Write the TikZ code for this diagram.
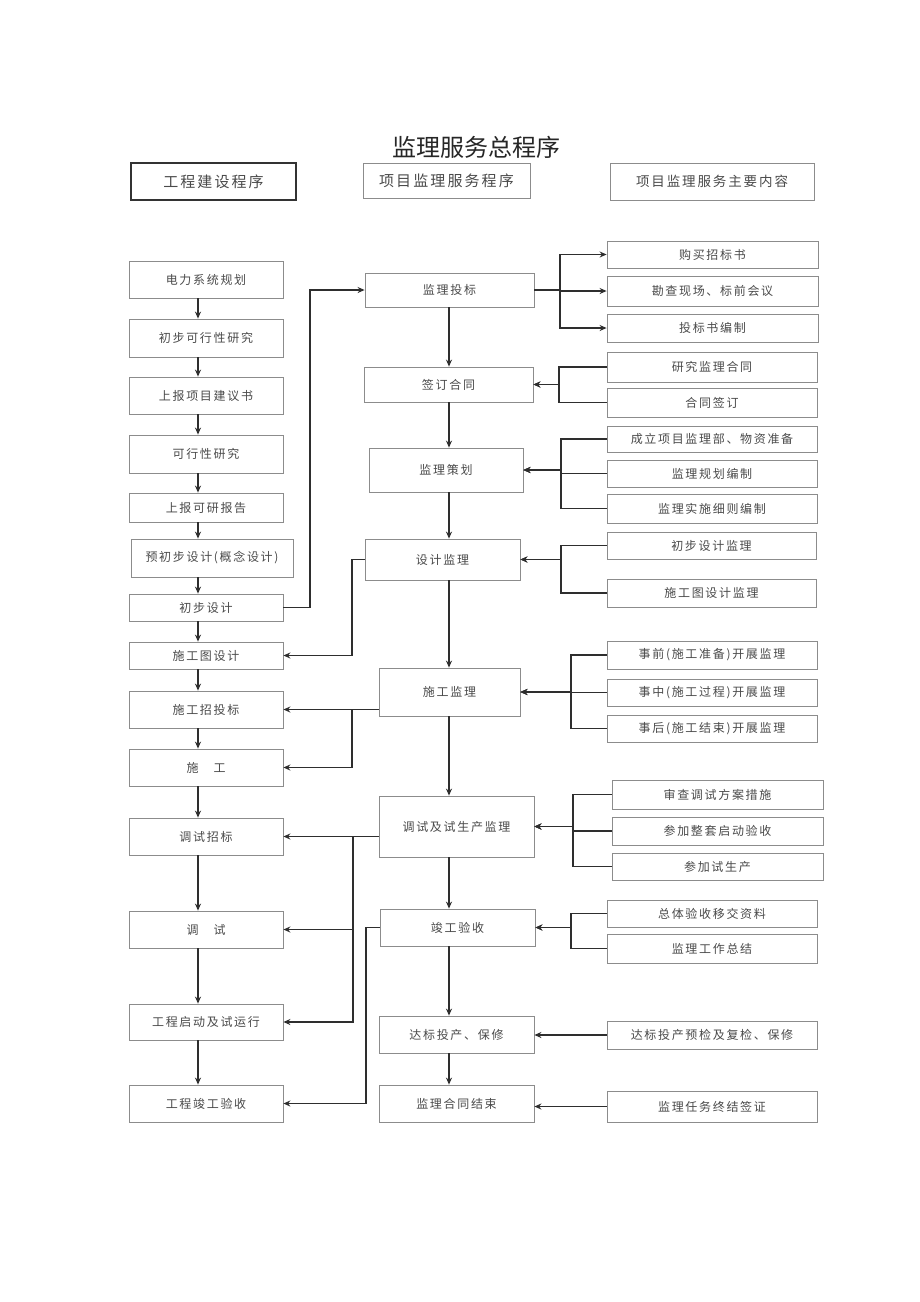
\documentclass[tikz,border=0pt]{standalone}
\usepackage{fontspec}
\setmainfont{Noto Sans CJK SC}
\newfontfamily\cjk[LetterSpace=14]{Noto Sans CJK SC}
\usetikzlibrary{arrows.meta,calc}
\definecolor{boxgray}{HTML}{8C8C8C}
\definecolor{txtgray}{HTML}{4A4A4A}
\definecolor{linec}{HTML}{2E2E2E}
\tikzset{
  box/.style={draw=boxgray, line width=0.8pt, inner sep=0pt, text=txtgray,
    font=\cjk\fontsize{12}{14}\selectfont},
  hbox/.style={box, font=\cjk\fontsize{15}{18}\selectfont},
  conn/.style={draw=linec, line width=1.4pt},
  arr/.style={conn, -{Stealth[length=7pt,width=6pt]}},
}
\newcommand\mkbox[7][]{%
  \node[box,#1,minimum width={(#5-#3)*1pt},minimum height={(#6-#4)*1pt}] (#2) at ({(#3+#5)/2},{(#4+#6)/2}) {#7};}
\begin{document}
\begin{tikzpicture}[x=1pt,y=-1pt]
\useasboundingbox (0,0) rectangle (920,1302);
\fill[white] (0,0) rectangle (920,1302);
% title and headers
\node[font=\fontsize{24}{28}\selectfont, text=black!85] (title) at (476,147) {监理服务总程序};
\mkbox[hbox, draw=black!80, line width=1.4pt]{H1}{131}{163}{296}{200}{工程建设程序}
\mkbox[hbox]{H2}{363}{163}{530}{198}{项目监理服务程序}
\mkbox[hbox, font=\cjk\fontsize{13.5}{16}\selectfont]{H3}{610}{163}{814}{200}{项目监理服务主要内容}
% left column
\mkbox{L1}{129}{261}{283}{298}{电力系统规划}
\mkbox{L2}{129}{319}{283}{357}{初步可行性研究}
\mkbox{L3}{129}{377}{283}{414}{上报项目建议书}
\mkbox{L4}{129}{435}{283}{473}{可行性研究}
\mkbox{L5}{129}{493}{283}{522}{上报可研报告}
\mkbox{L6}{131}{539}{293}{577}{预初步设计(概念设计)}
\mkbox{L7}{129}{594}{283}{621}{初步设计}
\mkbox{L8}{129}{642}{283}{669}{施工图设计}
\mkbox{L9}{129}{691}{283}{728}{施工招投标}
\mkbox{L10}{129}{749}{283}{786}{施\hspace{15pt}工}
\mkbox{L11}{129}{818}{283}{855}{调试招标}
\mkbox{L12}{129}{911}{283}{948}{调\hspace{15pt}试}
\mkbox{L13}{129}{1004}{283}{1040}{工程启动及试运行}
\mkbox{L14}{129}{1085}{283}{1122}{工程竣工验收}
% middle column
\mkbox{M1}{365}{273}{534}{307}{监理投标}
\mkbox{M2}{364}{367}{533}{402}{签订合同}
\mkbox{M3}{369}{448}{523}{492}{监理策划}
\mkbox{M4}{365}{539}{520}{580}{设计监理}
\mkbox{M5}{379}{668}{520}{716}{施工监理}
\mkbox{M6}{379}{796}{534}{857}{调试及试生产监理}
\mkbox{M7}{380}{909}{535}{946}{竣工验收}
\mkbox{M8}{379}{1016}{534}{1053}{达标投产、保修}
\mkbox{M9}{379}{1085}{534}{1122}{监理合同结束}
% right column
\mkbox{R1}{607}{241}{818}{268}{购买招标书}
\mkbox{R2}{607}{276}{818}{306}{勘查现场、标前会议}
\mkbox{R3}{607}{314}{818}{342}{投标书编制}
\mkbox{R4}{607}{352}{817}{382}{研究监理合同}
\mkbox{R5}{607}{388}{817}{417}{合同签订}
\mkbox{R6}{607}{426}{817}{452}{成立项目监理部、物资准备}
\mkbox{R7}{607}{460}{817}{487}{监理规划编制}
\mkbox{R8}{607}{494}{817}{523}{监理实施细则编制}
\mkbox{R9}{607}{532}{816}{559}{初步设计监理}
\mkbox{R10}{607}{579}{816}{607}{施工图设计监理}
\mkbox{R11}{607}{641}{817}{669}{事前(施工准备)开展监理}
\mkbox{R12}{607}{679}{817}{706}{事中(施工过程)开展监理}
\mkbox{R13}{607}{715}{817}{742}{事后(施工结束)开展监理}
\mkbox{R14}{612}{780}{823}{809}{审查调试方案措施}
\mkbox{R15}{612}{817}{823}{845}{参加整套启动验收}
\mkbox{R16}{612}{853}{823}{880}{参加试生产}
\mkbox{R17}{607}{900}{817}{927}{总体验收移交资料}
\mkbox{R18}{607}{934}{817}{963}{监理工作总结}
\mkbox{R19}{607}{1021}{817}{1049}{达标投产预检及复检、保修}
\mkbox{R20}{607}{1091}{817}{1122}{监理任务终结签证}
% bus coordinates
\coordinate (xL) at (198,0);
\coordinate (xM) at (449,0);
\coordinate (bA) at (560,0);
\coordinate (bB) at (559,0);
\coordinate (bC) at (561,0);
\coordinate (bD) at (561,0);
\coordinate (bE) at (571,0);
\coordinate (bF) at (573,0);
\coordinate (bG) at (571,0);
\coordinate (cA) at (310,0);
\coordinate (cB) at (352,0);
\coordinate (cC) at (353,0);
\coordinate (cD) at (366,0);
% left vertical arrows
\foreach \a/\b in {L1/L2,L2/L3,L3/L4,L4/L5,L5/L6,L6/L7,L7/L8,L8/L9,L9/L10,L10/L11,L11/L12,L12/L13,L13/L14}
  \draw[arr] (\a.south -| xL) -- (\b.north -| xL);
% middle vertical arrows
\foreach \a/\b in {M1/M2,M2/M3,M3/M4,M4/M5,M5/M6,M6/M7,M7/M8,M8/M9}
  \draw[arr] (\a.south -| xM) -- (\b.north -| xM);
% M1 -> R1..R3
\draw[conn] (M1.east) -- (M1.east -| bA);
\foreach \r in {R1,R2,R3}
  \draw[arr] (M1.east -| bA) |- (\r.west);
% R4,R5 -> M2
\foreach \r in {R4,R5}
  \draw[arr] (\r.west) -- (\r.west -| bB) |- (M2.east);
% R6..R8 -> M3
\foreach \r in {R6,R7,R8}
  \draw[arr] (\r.west) -- (\r.west -| bC) |- (M3.east);
% R9,R10 -> M4
\foreach \r in {R9,R10}
  \draw[arr] (\r.west) -- (\r.west -| bD) |- (M4.east);
% R11..R13 -> M5
\foreach \r in {R11,R12,R13}
  \draw[arr] (\r.west) -- (\r.west -| bE) |- (M5.east);
% R14..R16 -> M6
\foreach \r in {R14,R15,R16}
  \draw[arr] (\r.west) -- (\r.west -| bF) |- (M6.east);
% R17,R18 -> M7
\foreach \r in {R17,R18}
  \draw[arr] (\r.west) -- (\r.west -| bG) |- (M7.east);
% R19 -> M8, R20 -> M9
\draw[arr] (R19.west) -- (R19.west -| M8.east);
\draw[arr] (R20.west) -- (R20.west -| M9.east);
% left connectors
\draw[arr] (L7.east) -- (L7.east -| cA) |- (M1.west);
\draw[arr] (M4.west) -- (M4.west -| cB) |- (L8.east);
\draw[arr] (M5.west |- L9.east) -- (L9.east);
\draw[arr] (L9.east -| cB) |- (L10.east);
\draw[arr] (M6.west |- L11.east) -- (L11.east);
\draw[arr] (L11.east -| cC) |- (L12.east);
\draw[arr] (L11.east -| cC) |- (L13.east);
\draw[arr] (M7.west) -- (M7.west -| cD) |- (L14.east);
\end{tikzpicture}
\end{document}
